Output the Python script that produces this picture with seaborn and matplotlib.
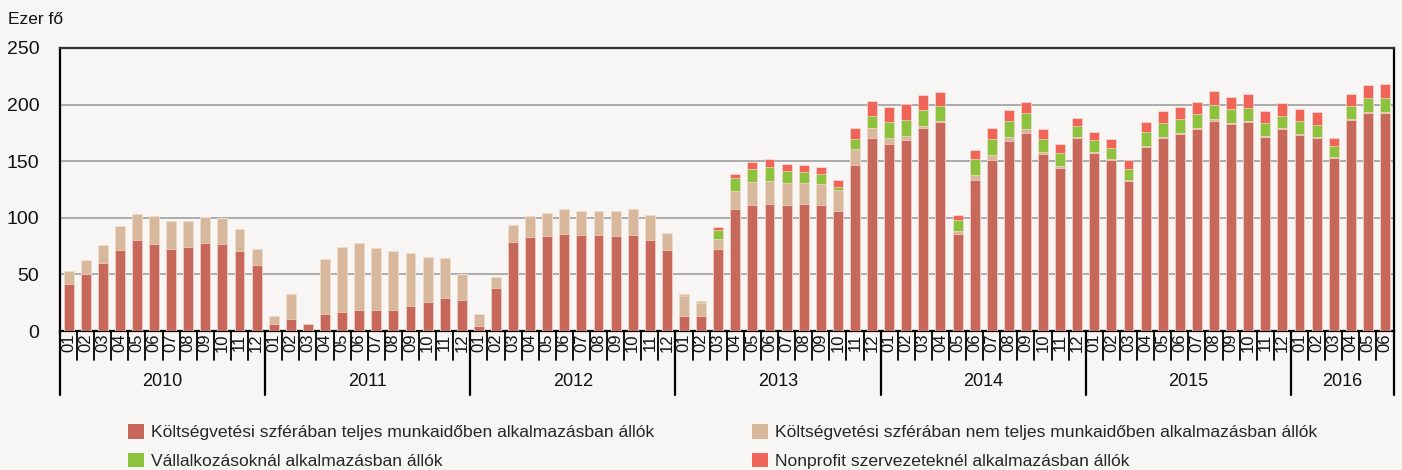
import numpy as np
import pandas as pd
import matplotlib
matplotlib.use("Agg")
import matplotlib.pyplot as plt
import matplotlib.transforms as mtransforms
from matplotlib.patches import Patch
import seaborn as sns

years = [2010, 2011, 2012, 2013, 2014, 2015, 2016]
months_per_year = [12, 12, 12, 12, 12, 12, 6]

full_time = [41.4, 50.2, 59.7, 71.5, 80.4, 76.8, 72.7, 74.2, 77.4, 76.8, 70.6, 58.2,
             5.9, 10.3, 5.9, 14.8, 17.1, 18.9, 18.9, 18.9, 21.9, 25.4, 29.0, 27.2,
             4.1, 38.4, 78.6, 83.0, 83.6, 85.4, 84.5, 84.5, 83.6, 84.5, 80.4, 71.5,
             13.0, 13.0, 72.1, 108.2, 111.4, 112.3, 111.4, 112.3, 111.1, 106.1, 146.9, 170.8,
             165.5, 168.7, 179.7, 184.4, 85.7, 133.6, 151.0, 167.6, 175.2, 156.6, 144.2, 170.2,
             157.5, 151.3, 132.1, 162.2, 170.2, 173.8, 178.2, 185.9, 182.6, 184.4, 171.1, 178.2,
             172.9, 170.2, 152.5, 186.5, 193.0, 193.0]
part_time = [11.2, 12.2, 15.9, 21.0, 23.3, 24.6, 24.2, 23.3, 23.7, 22.8, 19.5, 14.2,
             7.1, 22.8, 0.6, 48.7, 56.8, 58.5, 54.4, 52.0, 46.7, 39.6, 35.1, 23.3,
             11.3, 8.9, 14.8, 18.7, 21.0, 22.2, 21.6, 21.6, 22.8, 23.1, 21.8, 15.4,
             18.0, 12.1, 8.9, 15.3, 19.8, 20.1, 19.5, 18.3, 18.9, 18.3, 14.2, 8.3,
             5.3, 3.9, 1.4, 0.9, 2.4, 4.1, 4.4, 4.1, 3.3, 1.2, 1.5, 1.2,
             0.9, 0.6, 0.9, 1.2, 1.2, 1.1, 0.9, 1.5, 1.2, 0.9, 1.2, 0.9,
             0.9, 0.9, 0.9, 1.1, 0.6, 0.6]
business = [0.0] * 36 + \
           [0.6, 0.6, 8.5, 11.5, 11.8, 12.4, 10.1, 9.5, 8.9, 2.7, 8.2, 11.2,
            13.6, 13.9, 13.9, 13.6, 10.0, 13.9, 14.2, 13.6, 13.9, 11.8, 11.8, 9.5,
            10.0, 10.0, 10.0, 12.1, 12.4, 12.5, 12.4, 12.1, 12.4, 12.1, 11.5, 11.2,
            11.8, 11.2, 10.0, 11.0, 11.8, 11.8]
nonprofit = [0.0] * 36 + \
            [1.5, 0.9, 2.1, 3.9, 6.2, 6.8, 6.5, 6.5, 6.2, 6.2, 10.1, 12.7,
             13.6, 13.6, 13.6, 12.4, 4.1, 8.0, 9.8, 10.0, 9.7, 8.9, 8.0, 7.6,
             7.7, 7.4, 7.7, 9.2, 10.3, 10.3, 11.2, 12.1, 10.7, 11.8, 10.9, 10.9,
             10.9, 11.0, 7.1, 11.2, 12.1, 12.7]

series_names = ["Költségvetési szférában teljes munkaidőben alkalmazásban állók",
                "Költségvetési szférában nem teljes munkaidőben alkalmazásban állók",
                "Vállalkozásoknál alkalmazásban állók",
                "Nonprofit szervezeteknél alkalmazásban állók"]
colors = ["#C7685A", "#D8B89C", "#8DC23C", "#F06557"]

month_labels = []
keys = []
for y, n in zip(years, months_per_year):
    for m in range(1, n + 1):
        month_labels.append(f"{m:02d}")
        keys.append(f"{y}-{m:02d}")

df = pd.DataFrame({"key": keys, "s1": full_time, "s2": part_time,
                   "s3": business, "s4": nonprofit})
df["c1"] = df["s1"]
df["c2"] = df["c1"] + df["s2"]
df["c3"] = df["c2"] + df["s3"]
df["c4"] = df["c3"] + df["s4"]

bg = "#F7F6F4"
sns.set_theme(style="white")
plt.rcParams["font.family"] = ["Liberation Sans", "DejaVu Sans"]

fig = plt.figure(figsize=(14.02, 4.70), dpi=100, facecolor=bg)
ax = fig.add_axes([60 / 1402, 1 - 331 / 470, (1393.5 - 60) / 1402, (331 - 48) / 470])
ax.set_facecolor(bg)

for col, c in zip(["c4", "c3", "c2", "c1"], colors[::-1]):
    sns.barplot(data=df, x="key", y=col, color=c, width=0.58, ax=ax,
                saturation=1, edgecolor="#fbe9e4", linewidth=0.4, zorder=3)

ax.set_xlim(-0.5, len(keys) - 0.5)
ax.set_ylim(0, 250)
ax.set_yticks(range(0, 251, 50))
ax.tick_params(axis="y", which="major", direction="out", length=12, width=1.2,
               color="black", labelsize=14, pad=3, labelcolor="#111111")
ax.yaxis.grid(True, color="#a6a6a6", linewidth=1.3, zorder=0)
ax.set_axisbelow(True)
ax.set_xlabel("")
ax.set_ylabel("")

ax.set_xticks(range(len(keys)))
ax.set_xticklabels(month_labels, rotation=90, fontsize=12, color="#111111")
ax.tick_params(axis="x", length=0, pad=2)

for side in ["left", "right", "bottom"]:
    ax.spines[side].set_visible(True)
    ax.spines[side].set_color("black")
    ax.spines[side].set_linewidth(1.6)
ax.spines["top"].set_visible(True)
ax.spines["top"].set_color("#333333")
ax.spines["top"].set_linewidth(1.6)

# separators below the axis
trans = mtransforms.blended_transform_factory(ax.transData, fig.transFigure)
y0 = 1 - 331 / 470
y_month = 1 - 360 / 470
y_year = 1 - 395 / 470
for i in range(len(keys) + 1):
    ax.plot([i - 0.5, i - 0.5], [y0, y_month], transform=trans, color="black",
            linewidth=1.3, clip_on=False)
start = 0
for y, n in zip(years, months_per_year):
    ax.plot([start - 0.5, start - 0.5], [y0, y_year], transform=trans, color="black",
            linewidth=1.6, clip_on=False)
    ax.text(start - 0.5 + n / 2, 1 - 382 / 470, str(y), transform=trans,
            ha="center", va="center", fontsize=13, color="#111111")
    start += n
ax.plot([start - 0.5, start - 0.5], [y0, y_year], transform=trans, color="black",
        linewidth=1.6, clip_on=False)

fig.text(8 / 1402, 1 - 19 / 470, "Ezer fő", ha="left", va="center",
         fontsize=12.5, color="#111111")

order = [0, 2, 1, 3]
handles = [Patch(facecolor=colors[i], edgecolor="none") for i in order]
labels = [series_names[i] for i in order]
fig.legend(handles=handles, labels=labels, ncol=2,
           loc="upper left", bbox_to_anchor=(128 / 1402, 1 - 424 / 470),
           frameon=False, fontsize=12.6, handlelength=0.9, handleheight=0.9,
           handletextpad=0.4, columnspacing=5.6, labelspacing=0.7,
           borderaxespad=0, borderpad=0)

fig.savefig("out.png", dpi=100, facecolor=bg)
